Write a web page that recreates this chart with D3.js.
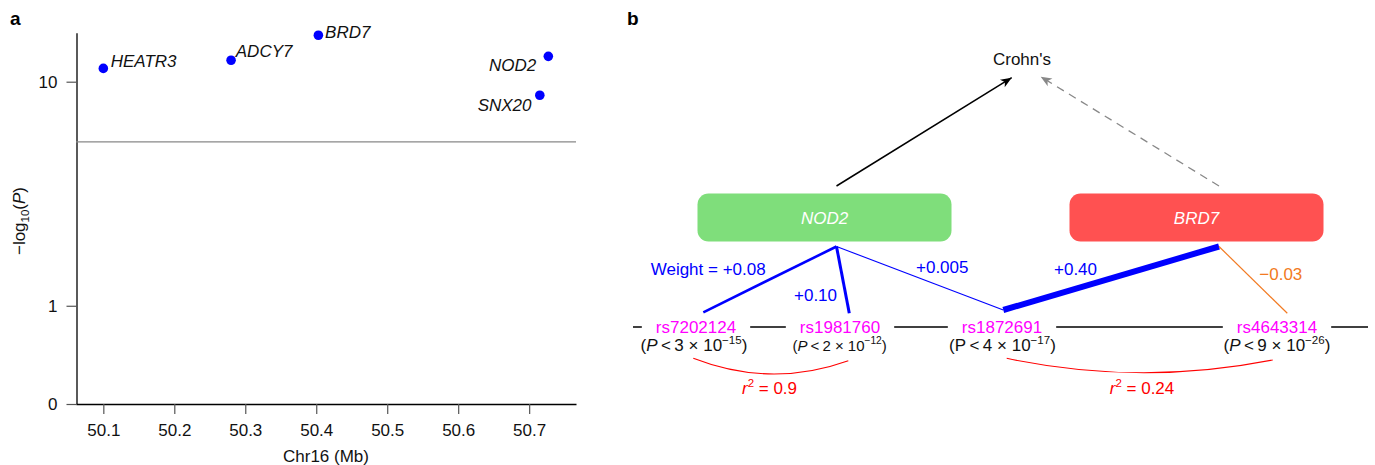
<!DOCTYPE html>
<html><head><meta charset="utf-8">
<script src="https://cdn.jsdelivr.net/npm/d3@7"></script>
<style>
html,body{margin:0;padding:0;background:#fff;}
svg{display:block;font-family:"Liberation Sans",Arial,Helvetica,sans-serif;}
</style></head><body>
<svg id="chart" width="1375" height="465"></svg>
<script>
// ================= DATA =================
// Panel a
const genesA = ["HEATR3", "ADCY7", "BRD7", "NOD2", "SNX20"];
const positionsMb = [50.100, 50.280, 50.403, 50.727, 50.715];
const negLogP = [11.2, 12.0, 14.8, 12.4, 8.9];
const xTicks = [50.1, 50.2, 50.3, 50.4, 50.5, 50.6, 50.7];
const yTicks = [0, 1, 10];
const threshold = 5.9;

// Panel b
const outcome = "Crohn's";
const geneNodes = ["NOD2", "BRD7"];
const geneCausal = [true, false];
const snps = ["rs7202124", "rs1981760", "rs1872691", "rs4643314"];
const pMantissa = [3, 2, 4, 9];
const pExponent = [-15, -12, -17, -26];
const edgeGene = ["NOD2", "NOD2", "NOD2", "BRD7", "BRD7"];
const edgeSnp = ["rs7202124", "rs1981760", "rs1872691", "rs1872691", "rs4643314"];
const edgeWeight = [0.08, 0.10, 0.005, 0.40, -0.03];
const ldSnpA = ["rs7202124", "rs1872691"];
const ldSnpB = ["rs1981760", "rs4643314"];
const ldR2 = [0.9, 0.24];

// ================= LAYOUT / STYLE =================
const FONT = 17;
const svg = d3.select("#chart");

// ---------- Panel a ----------
const x = d3.scaleLinear().domain([50.0615, 50.766]).range([76, 576]);
const y = d3.scaleSymlog().constant(0.855).domain([0, 15.12]).range([404, 32.7]);

const labelOffsets = [[7.4, -1.6, "start"], [4.7, -3.6, "start"], [6.7, 3, "start"], [-12, 15, "end"], [-8.3, 15.3, "end"]];

svg.append("text").attr("x", 10).attr("y", 25).attr("font-weight", "bold")
  .attr("font-size", 19).attr("font-family", "'Liberation Sans Narrow','Liberation Sans',Arial,sans-serif").text("a");

const gx = svg.append("g").attr("transform", "translate(0,404)")
  .call(d3.axisBottom(x).tickValues(xTicks).tickFormat(d3.format(".1f")).tickSize(10).tickSizeOuter(0).tickPadding(10));
const gy = svg.append("g").attr("transform", "translate(76.5,0)")
  .call(d3.axisLeft(y).tickValues(yTicks).tickFormat(d3.format("d")).tickSize(10).tickSizeOuter(0).tickPadding(9));
[gx, gy].forEach(g => {
  g.selectAll("text").attr("font-size", FONT).attr("fill", "#111").attr("font-family", "'Liberation Sans',Arial,sans-serif");
  g.selectAll(".tick line").attr("stroke", "#555").attr("stroke-width", 1.2);
  g.select(".domain").attr("stroke", "#000").attr("stroke-width", 1.3);
});

svg.append("line").attr("x1", x.range()[0]).attr("x2", x.range()[1])
  .attr("y1", y(threshold)).attr("y2", y(threshold)).attr("stroke", "#888").attr("stroke-width", 1.2);

svg.append("text").attr("text-anchor", "middle").attr("x", 326).attr("y", 461.5)
  .attr("font-size", FONT).attr("fill", "#111").text("Chr16 (Mb)");

const yl = svg.append("text").attr("transform", "translate(25,221) rotate(-90)")
  .attr("text-anchor", "middle").attr("font-size", FONT).attr("fill", "#111");
yl.append("tspan").text("−log");
yl.append("tspan").attr("font-size", 11.5).attr("dy", 4).text("10");
yl.append("tspan").attr("dy", -4).text("(");
yl.append("tspan").attr("font-style", "italic").text("P");
yl.append("tspan").text(")");

genesA.forEach((g, i) => {
  const px = x(positionsMb[i]), py = y(negLogP[i]);
  svg.append("circle").attr("cx", px).attr("cy", py).attr("r", 4.8).attr("fill", "#0000ff");
  const o = labelOffsets[i];
  svg.append("text").attr("x", px + o[0]).attr("y", py + o[1]).attr("text-anchor", o[2])
    .attr("font-size", FONT).attr("font-style", "italic").attr("fill", "#111").text(g);
});

// ---------- Panel b ----------
svg.append("text").attr("x", 627).attr("y", 25).attr("font-weight", "bold")
  .attr("font-size", 19).attr("font-family", "'Liberation Sans Narrow','Liberation Sans',Arial,sans-serif").text("b");

const defs = svg.append("defs");
[["arrBlack", "#000"], ["arrGray", "#888"]].forEach(([id, c]) => {
  defs.append("marker").attr("id", id).attr("markerUnits", "userSpaceOnUse")
    .attr("viewBox", "-12 -6 13 12").attr("refX", 0).attr("refY", 0)
    .attr("markerWidth", 13).attr("markerHeight", 12).attr("orient", "auto")
    .append("path").attr("d", "M0,0 L-11,-4.5 L-8,0 L-11,4.5 Z").attr("fill", c);
});

const outcomeX = 1022, outcomeY = 65;
svg.append("text").attr("x", outcomeX).attr("y", outcomeY).attr("text-anchor", "middle")
  .attr("font-size", FONT).attr("fill", "#111").text(outcome);

const geneLayout = {
  NOD2: { cx: 824.5, stem: 836.5, fill: "#7fde7b", tip: [-10.3, 12.7] },
  BRD7: { cx: 1196.5, stem: 1219, fill: "#ff5151", tip: [18.7, 11.7] }
};
const boxW = 254, boxH = 48, boxTop = 193.5, hubY = 246.5, stemTop = 186;

geneNodes.forEach((g, i) => {
  const L = geneLayout[g];
  svg.append("line").attr("x1", L.stem).attr("y1", stemTop)
    .attr("x2", outcomeX + L.tip[0]).attr("y2", outcomeY + L.tip[1])
    .attr("stroke", geneCausal[i] ? "#000" : "#888").attr("stroke-width", geneCausal[i] ? 1.5 : 1.3)
    .attr("stroke-dasharray", geneCausal[i] ? null : "8,6")
    .attr("marker-end", geneCausal[i] ? "url(#arrBlack)" : "url(#arrGray)");
  svg.append("rect").attr("x", L.cx - boxW / 2).attr("y", boxTop).attr("width", boxW).attr("height", boxH)
    .attr("rx", 11).attr("fill", L.fill);
  svg.append("text").attr("x", L.cx).attr("y", boxTop + boxH / 2 + 6.2).attr("text-anchor", "middle")
    .attr("font-size", FONT).attr("font-style", "italic").attr("fill", "#fff").text(g);
});

// SNP row
const snpX = { rs7202124: 696, rs1981760: 840, rs1872691: 1002, rs4643314: 1277 };
const rowY = 327;
const rowG = svg.append("g");
rowG.append("line").attr("x1", 633).attr("x2", 1368).attr("y1", rowY).attr("y2", rowY)
  .attr("stroke", "#000").attr("stroke-width", 1.5);

const pFont = [17, 15, 17, 17];
const pItalic = [true, true, false, true];
const pCenter = [694, 839.7, 1002.5, 1277];
snps.forEach((s, i) => {
  const bg = rowG.append("rect").attr("fill", "#fff");
  const t = rowG.append("text").attr("x", snpX[s]).attr("y", rowY + 6.2).attr("text-anchor", "middle")
    .attr("font-size", FONT).attr("fill", "#ff00ff").text(s);
  const w = t.node().getComputedTextLength();
  bg.attr("x", snpX[s] - w / 2 - 14).attr("y", rowY - 4).attr("width", w + 28).attr("height", 8);
  const fs = pFont[i];
  const p = svg.append("text").attr("x", pCenter[i]).attr("y", 351).attr("text-anchor", "middle")
    .attr("font-size", fs).attr("fill", "#111");
  p.append("tspan").text("(");
  p.append("tspan").attr("font-style", pItalic[i] ? "italic" : null).text("P");
  p.append("tspan").text("\u2009<\u2009" + pMantissa[i] + " × 10");
  p.append("tspan").attr("font-size", fs * 0.68).attr("dy", -7.5).text("−" + Math.abs(pExponent[i]));
  p.append("tspan").attr("dy", 7.5).text(")");
});

// edges
const edgeAnchor = [[703.3, 312.3], [849.3, 313.3], [1003.3, 310], [1003.3, 310], [1287.3, 313.3]];
const edgeLabelPos = [[650.7, 275], [794, 301], [916, 273.3], [1054, 275], [1259.3, 280]];
const widthScale = d3.scaleLinear().domain([0, 0.1, 0.4]).range([1, 3, 6]);
const fmtW = w => (w < 0 ? "−" : "+") + (Math.abs(w) < 0.01 ? Math.abs(w).toFixed(3) : Math.abs(w).toFixed(2));
edgeWeight.forEach((w, i) => {
  const L = geneLayout[edgeGene[i]];
  const col = w < 0 ? "#f27a22" : "#0000ff";
  svg.append("line").attr("x1", L.stem).attr("y1", hubY).attr("x2", edgeAnchor[i][0]).attr("y2", edgeAnchor[i][1])
    .attr("stroke", col).attr("stroke-width", w < 0 ? 1.2 : widthScale(w));
  svg.append("text").attr("x", edgeLabelPos[i][0]).attr("y", edgeLabelPos[i][1])
    .attr("font-size", FONT).attr("fill", col).text((i === 0 ? "Weight = " : "") + fmtW(w));
});

// LD arcs
const arcEnds = [[[693.3, 358.3], [848.3, 360.7], 374], [[1006.7, 358.3], [1272.7, 360], 372.7]];
const r2LabelX = [769.5, 1142];
ldR2.forEach((r, i) => {
  const [a, b, bottom] = arcEnds[i];
  const cx = (a[0] + b[0]) / 2, cy = 2 * bottom - (a[1] + b[1]) / 2;
  const path = d3.path();
  path.moveTo(a[0], a[1]);
  path.quadraticCurveTo(cx, cy, b[0], b[1]);
  svg.append("path").attr("d", path.toString()).attr("fill", "none").attr("stroke", "#ff0000").attr("stroke-width", 1.1);
  const t = svg.append("text").attr("x", r2LabelX[i]).attr("y", 393.5).attr("text-anchor", "middle")
    .attr("font-size", FONT).attr("fill", "#ff0000");
  t.append("tspan").attr("font-style", "italic").text("r");
  t.append("tspan").attr("font-size", 11.5).attr("dy", -7).text("2");
  t.append("tspan").attr("dy", 7).text(" = " + r);
});
</script>
</body></html>
